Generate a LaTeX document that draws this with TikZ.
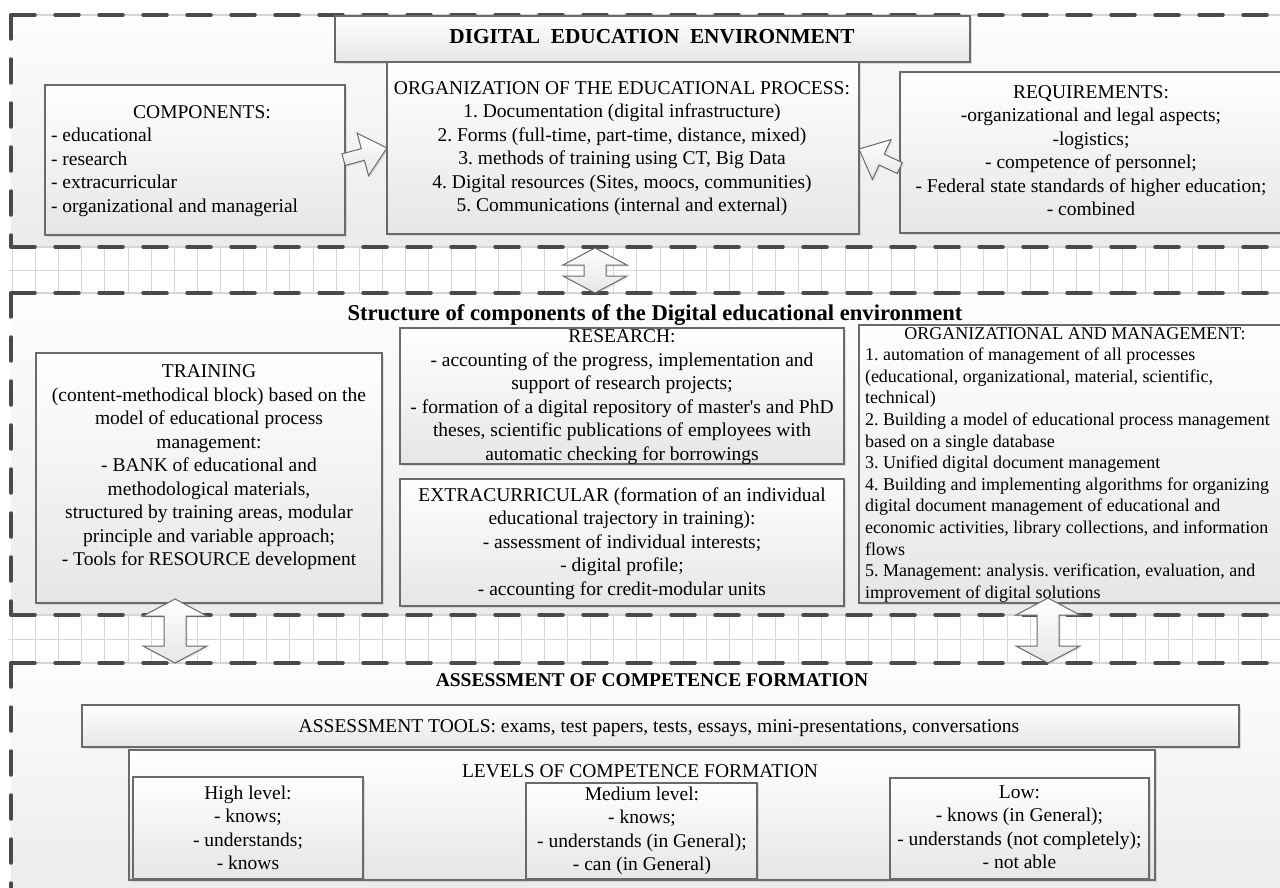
\documentclass[tikz,border=0pt]{standalone}
\usepackage{fontspec}
\setmainfont{Liberation Serif}
\usetikzlibrary{shadows}
\definecolor{dashcol}{HTML}{4A4A4A}
\definecolor{boxline}{HTML}{6A6A6A}
\definecolor{gridcol}{HTML}{D6D6D6}
\definecolor{regtop}{HTML}{FDFDFD}
\definecolor{regbot}{HTML}{EBEBEB}
\definecolor{boxbot}{HTML}{E6E6E6}
\newcommand{\mycblock}[2]{\parbox[t]{#1}{\centering #2}}
\newcommand{\mylblock}[2]{\parbox[t]{#1}{\raggedright #2}}
\frenchspacing
\tikzset{
  box/.style={draw=boxline, line width=1.1pt, top color=white, bottom color=boxbot,
    drop shadow={shadow xshift=2pt, shadow yshift=-2pt, opacity=0.22},
    inner sep=0pt, outer sep=0pt, anchor=north west},
  txt/.style={anchor=base, inner sep=0pt, outer sep=0pt, font=\fontsize{19.5}{23.5}\selectfont\frenchspacing},
  ltxt/.style={anchor=base west, inner sep=0pt, outer sep=0pt, font=\fontsize{19.5}{23.5}\selectfont\frenchspacing},
  stxt/.style={anchor=base west, inner sep=0pt, outer sep=0pt, font=\fontsize{18}{21.6}\selectfont\frenchspacing},
  htxt/.style={anchor=base, inner sep=0pt, outer sep=0pt, font=\fontsize{19.5}{23.5}\selectfont\bfseries},
  dashline/.style={draw=dashcol, line width=3.5pt, dash pattern=on 24pt off 20pt, line cap=round},
  borderline/.style={draw=gridcol, line width=1.5pt},
  gridline/.style={draw=gridcol, line width=0.9pt},
  blockarrow/.style={draw=boxline, line width=1pt, top color=white, bottom color=boxbot,
    drop shadow={shadow xshift=1.5pt, shadow yshift=-1.5pt, opacity=0.2}},
}
\newcommand{\dblarrow}[3]{%
  \draw[blockarrow] (#1,#2) -- ({#1+32},{#2+17}) -- ({#1+11},{#2+17}) -- ({#1+11},{#3-17})
    -- ({#1+32},{#3-17}) -- (#1,#3) -- ({#1-32},{#3-17}) -- ({#1-11},{#3-17})
    -- ({#1-11},{#2+17}) -- ({#1-32},{#2+17}) -- cycle;}
\newcommand{\sglarrow}[3]{%
  \draw[blockarrow, shift={(#1,#2)}, rotate=#3] (0,0) -- (-25,-22) -- (-25,-6) -- (-45,-6)
    -- (-45,6) -- (-25,6) -- (-25,22) -- cycle;}
\begin{document}
\begin{tikzpicture}[x=1pt, y=-1pt]
\useasboundingbox (0,0) rectangle (1280,888);
\clip (0,0) rectangle (1280,888);
\fill[white] (0,0) rectangle (1280,888);
% regions
\shade[top color=regtop, bottom color=regbot] (11,15) rectangle (1290,247);
\shade[top color=regtop, bottom color=regbot] (11,293) rectangle (1290,615);
\shade[top color=regtop, bottom color=regbot] (11,663) rectangle (1290,900);
% grid bands
\foreach \ya/\yb in {247/293, 615/663}{
  \draw[gridline] (8,{(\ya+\yb)/2}) -- (1280,{(\ya+\yb)/2});
  \foreach \k in {0,...,55}{
    \draw[gridline] ({12.35+\k*23.13},\ya) -- ({12.35+\k*23.13},\yb);
  }
}
% region borders
\foreach \y in {15,247,293,615,663}{
  \draw[borderline] (11,\y) -- (1290,\y);
  \draw[dashline] (11,\y) -- (1290,\y);
}
\draw[dashline] (11,15) -- (11,247);
\draw[dashline] (11,293) -- (11,615);
\draw[dashline] (11,663) -- (11,900);

% ---------- region 1 ----------
\node[box, minimum width=635pt, minimum height=46pt] (title) at (335,16) {};
\node[htxt, font=\fontsize{21.3}{25}\selectfont\bfseries] (titletxt) at (652,44) {DIGITAL\ \ EDUCATION\ \ ENVIRONMENT};

\node[box, minimum width=472pt, minimum height=172pt] (org) at (387,62) {};
\node[txt] (orgtxt) at (622,94.5) {\mycblock{470pt}{ORGANIZATION OF THE EDUCATIONAL PROCESS:\\
1. Documentation (digital infrastructure)\\
2. Forms (full-time, part-time, distance, mixed)\\
3. methods of training using CT, Big Data\\
4. Digital resources (Sites, moocs, communities)\\
5. Communications (internal and external)}};

\node[box, minimum width=300pt, minimum height=150pt] (comp) at (45,85) {};
\node[txt] (comptitle) at (202,118.5) {COMPONENTS:};
\node[ltxt] (complist) at (51,142) {\mylblock{290pt}{- educational\\
- research\\
- extracurricular\\
- organizational and managerial}};

\node[box, minimum width=400pt, minimum height=161pt] (req) at (900,72) {};
\node[txt] (reqtxt) at (1091,98.5) {\mycblock{380pt}{REQUIREMENTS:\\
-organizational and legal aspects;\\
-logistics;\\
- competence of personnel;\\
- Federal state standards of higher education;\\
- combined}};

\sglarrow{387}{148}{15}
\sglarrow{859}{149}{155}
\dblarrow{595}{248}{293}

% ---------- region 2 ----------
\node[htxt, font=\fontsize{22.6}{26}\selectfont\bfseries] (structtitle) at (655,320) {Structure of components of the Digital educational environment};

\node[box, minimum width=346pt, minimum height=250pt] (train) at (36,353) {};
\node[txt] (traintxt) at (209,377.5) {\mycblock{340pt}{TRAINING\\
(content-methodical block) based on the\\
model of educational process\\
management:\\
- BANK of educational and\\
methodological materials,\\
structured by training areas, modular\\
principle and variable approach;\\
- Tools for RESOURCE development}};

\node[box, minimum width=444pt, minimum height=136pt] (res) at (400,328) {};
\node[txt] (restxt) at (622,342.5) {\mycblock{440pt}{RESEARCH:\\
- accounting of the progress, implementation and\\
support of research projects;\\
- formation of a digital repository of master\textquotesingle s and PhD\\
theses, scientific publications of employees with\\
automatic checking for borrowings}};

\node[box, minimum width=444pt, minimum height=127pt] (extra) at (400,479) {};
\node[txt] (extratxt) at (622,501) {\mycblock{440pt}{EXTRACURRICULAR (formation of an individual\\
educational trajectory in training):\\
- assessment of individual interests;\\
- digital profile;\\
- accounting for credit-modular units}};

\node[box, minimum width=440pt, minimum height=278pt] (mgmt) at (859,325) {};
\node[anchor=base, inner sep=0pt, font=\fontsize{18}{21.6}\selectfont] (mgmttitle) at (1075,339) {ORGANIZATIONAL AND MANAGEMENT:};
\node[stxt] (mgmttxt) at (865,360.6) {\mylblock{420pt}{1. automation of management of all processes\\
(educational, organizational, material, scientific,\\
technical)\\
2. Building a model of educational process management\\
based on a single database\\
3. Unified digital document management\\
4. Building and implementing algorithms for organizing\\
digital document management of educational and\\
economic activities, library collections, and information\\
flows\\
5. Management: analysis. verification, evaluation, and\\
improvement of digital solutions}};

\dblarrow{175}{599}{663}
\dblarrow{1048}{598}{663}

% ---------- region 3 ----------
\node[htxt] (asstitle) at (652,686.5) {ASSESSMENT OF COMPETENCE FORMATION};

\node[box, minimum width=1157pt, minimum height=42pt] (tools) at (82,705) {};
\node[txt] (toolstxt) at (659,732.5) {ASSESSMENT TOOLS: exams, test papers, tests, essays, mini-presentations, conversations};

\node[box, minimum width=1026pt, minimum height=130pt] (levels) at (129,750) {};
\node[txt] (levelstxt) at (640,777.5) {LEVELS OF COMPETENCE FORMATION};

\node[box, minimum width=230pt, minimum height=102pt] (high) at (133,777) {};
\node[txt] (hightxt) at (248,799) {\mycblock{225pt}{High level:\\
- knows;\\
- understands;\\
- knows}};

\node[box, minimum width=231pt, minimum height=96pt] (medium) at (526,783) {};
\node[txt] (mediumtxt) at (642,800) {\mycblock{228pt}{Medium level:\\
- knows;\\
- understands (in General);\\
- can (in General)}};

\node[box, minimum width=259pt, minimum height=101pt] (low) at (890,778) {};
\node[txt] (lowtxt) at (1019.5,798) {\mycblock{255pt}{Low:\\
- knows (in General);\\
- understands (not completely);\\
- not able}};
\end{tikzpicture}
\end{document}
